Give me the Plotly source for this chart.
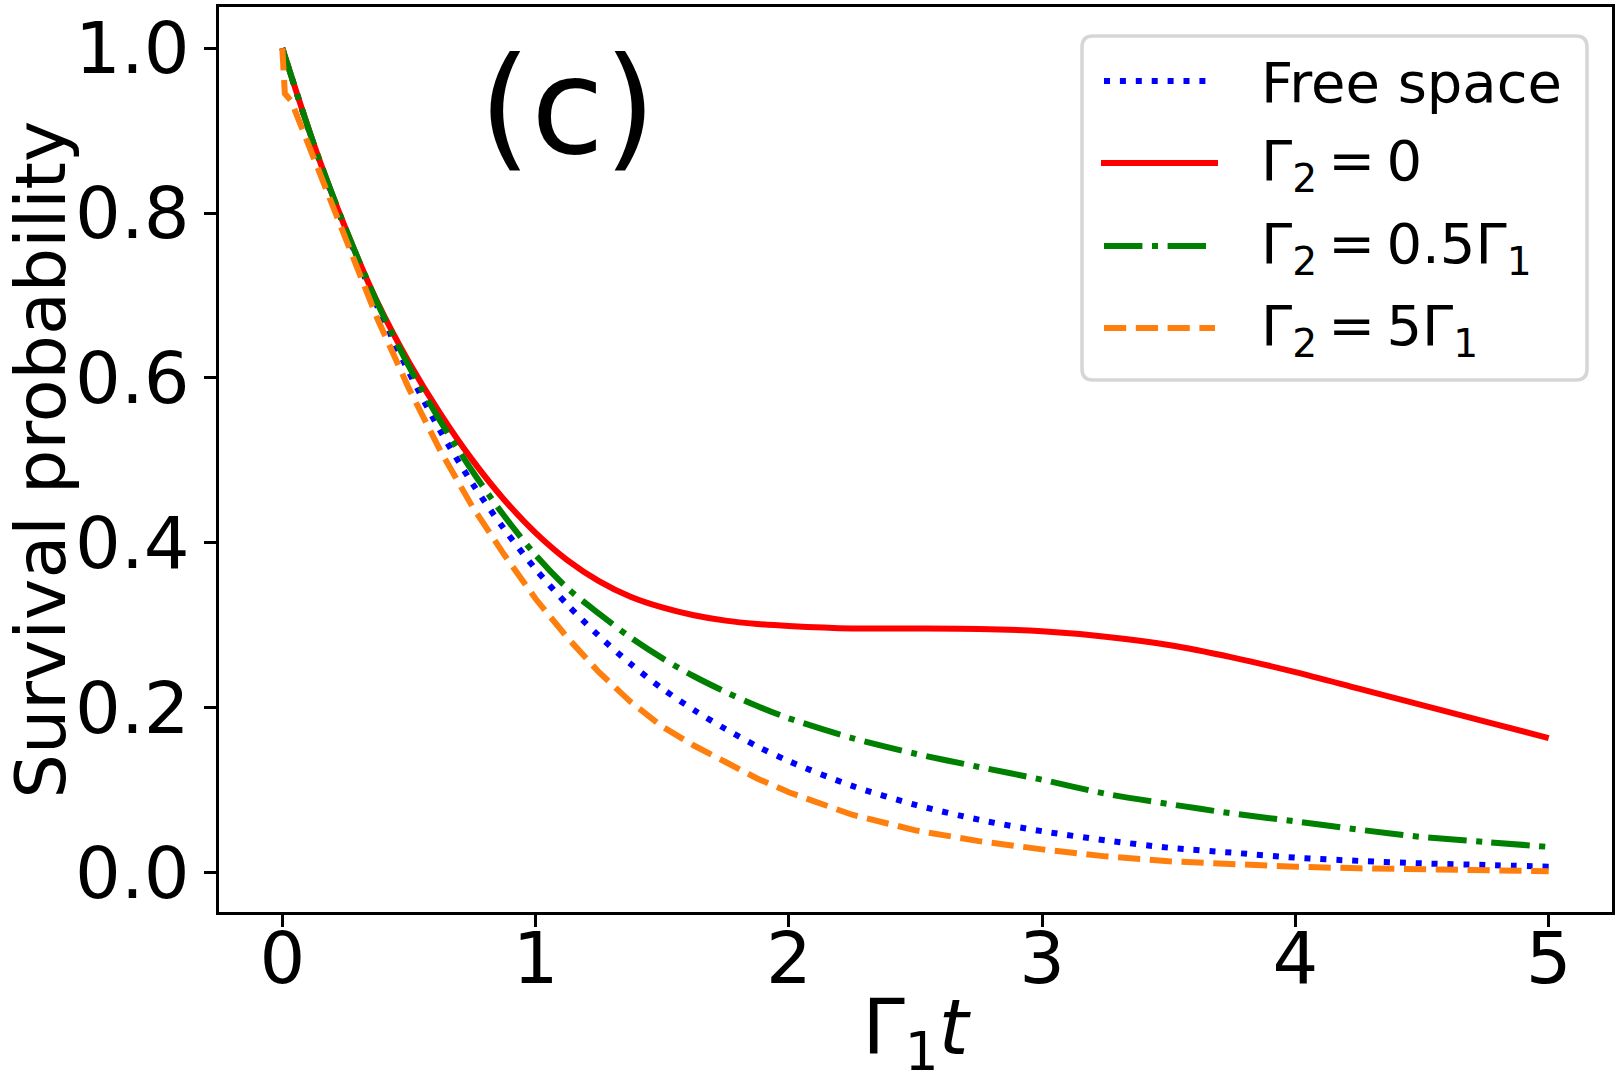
import plotly.graph_objects as go

# ---------------- data ----------------
t_free = [0.0, 0.125, 0.25, 0.375, 0.5, 0.625, 0.75, 0.875, 1.0, 1.125, 1.25, 1.375, 1.5,
          1.625, 1.75, 1.875, 2.0, 2.25, 2.5, 2.75, 3.0, 3.25, 3.5, 3.75, 4.0, 4.25, 4.5, 4.75, 5.0]
p_free = [1.0, 0.882, 0.779, 0.687, 0.607, 0.535, 0.472, 0.417, 0.368, 0.325, 0.287, 0.253, 0.223,
          0.197, 0.174, 0.153, 0.135, 0.105, 0.082, 0.064, 0.050, 0.039, 0.030, 0.024, 0.018, 0.014,
          0.011, 0.009, 0.007]

t_g0 = t_free
p_g0 = [1.0, 0.883, 0.781, 0.692, 0.619, 0.556, 0.5005, 0.4525, 0.412, 0.379, 0.3535, 0.3345, 0.3215,
        0.312, 0.3055, 0.3015, 0.299, 0.296, 0.296, 0.2955, 0.2925, 0.286, 0.276, 0.261, 0.243, 0.223,
        0.203, 0.183, 0.163]

t_g05 = t_free
p_g05 = [1.0, 0.883, 0.781, 0.691, 0.614, 0.547, 0.487, 0.433, 0.385, 0.345, 0.314, 0.285, 0.260,
         0.238, 0.219, 0.202, 0.187, 0.163, 0.144, 0.128, 0.1125, 0.0955, 0.083, 0.0716, 0.062, 0.052,
         0.043, 0.037, 0.031]

t_g5 = [0.0, 0.01, 0.035, 0.125, 0.25, 0.375, 0.5, 0.625, 0.75, 0.875, 1.0, 1.125, 1.25, 1.375, 1.5,
        1.625, 1.75, 1.875, 2.0, 2.25, 2.5, 2.75, 3.0, 3.25, 3.5, 3.75, 4.0, 4.25, 4.5, 4.75, 5.0]
p_g5 = [1.0, 0.945, 0.936, 0.866, 0.766, 0.672, 0.587, 0.511, 0.444, 0.386, 0.332, 0.285, 0.243,
        0.207, 0.177, 0.154, 0.134, 0.114, 0.0972, 0.070, 0.051, 0.038, 0.028, 0.0195, 0.0135,
        0.0098, 0.0069, 0.0050, 0.0033, 0.0022, 0.0015]

TS = "\u2009"  # thin space, as in the mathtext labels
series_names = ["Free space",
                f"Γ<sub>2</sub>{TS}={TS}0",
                f"Γ<sub>2</sub>{TS}={TS}0.5Γ<sub>1</sub>",
                f"Γ<sub>2</sub>{TS}={TS}5Γ<sub>1</sub>"]
x_ticks = [0, 1, 2, 3, 4, 5]
y_ticks = [0.0, 0.2, 0.4, 0.6, 0.8, 1.0]
y_ticktext = ["0.0", "0.2", "0.4", "0.6", "0.8", "1.0"]
x_label = "Γ<sub>1</sub><i>t</i>"
y_label = "Survival probability"
panel_label = "(c)"

# ---------------- styling ----------------
FONT = "DejaVu Sans"
LW = 6
colors = ["#0000ff", "#ff0000", "#008000", "#ff7f0e"]
dashes = ["6px,9.9px", "solid", "38.4px,9.6px,6px,9.6px", "22.2px,9.6px"]
shapes_line = ["spline", "spline", "spline", "linear"]

W, H = 1620, 1083
ML, MR, MT, MB = 219, 8, 7, 171
PW = W - ML - MR
PH = H - MT - MB


def X(px):
    return (px - ML) / PW


def Y(py):
    return (H - MB - py) / PH


fig = go.Figure()
data = [(t_free, p_free), (t_g0, p_g0), (t_g05, p_g05), (t_g5, p_g5)]
for (tx, py), name, c, d, sh in zip(data, series_names, colors, dashes, shapes_line):
    fig.add_trace(go.Scatter(x=tx, y=py, mode="lines", name=name,
                             line=dict(color=c, width=LW, dash=d, shape=sh, smoothing=0.8),
                             hoverinfo="skip"))

axis_common = dict(showline=True, linewidth=3, linecolor="black", mirror=True,
                   ticks="outside", ticklen=12, tickwidth=3, tickcolor="black",
                   showgrid=False, zeroline=False,
                   tickfont=dict(family=FONT, size=72, color="black"))

fig.update_xaxes(range=[-0.25, 5.25], tickvals=x_ticks, ticktext=[str(v) for v in x_ticks],
                 ticklabelstandoff=-30,
                 title=dict(text=x_label, font=dict(family=FONT, size=76, color="black"),
                            standoff=55),
                 **axis_common)
fig.update_yaxes(range=[-0.048, 1.05], tickvals=y_ticks, ticktext=y_ticktext,
                 **axis_common)

# ---------------- legend (drawn in the matplotlib style) ----------------
shapes = []
x0, x1, y0, y1, r = 1082, 1587, 36, 380, 11
path = (f"M {X(x0 + r)},{Y(y0)} L {X(x1 - r)},{Y(y0)} Q {X(x1)},{Y(y0)} {X(x1)},{Y(y0 + r)} "
        f"L {X(x1)},{Y(y1 - r)} Q {X(x1)},{Y(y1)} {X(x1 - r)},{Y(y1)} "
        f"L {X(x0 + r)},{Y(y1)} Q {X(x0)},{Y(y1)} {X(x0)},{Y(y1 - r)} "
        f"L {X(x0)},{Y(y0 + r)} Q {X(x0)},{Y(y0)} {X(x0 + r)},{Y(y0)} Z")
shapes.append(dict(type="path", path=path, xref="paper", yref="paper",
                   line=dict(color="rgba(204,204,204,0.8)", width=3.5),
                   fillcolor="rgba(255,255,255,0.8)", layer="above"))
row_y = [81, 163, 246, 328]
annotations = []
for i, (name, c, d) in enumerate(zip(series_names, colors, dashes)):
    hx0, hx1 = (1101, 1218) if d == "solid" else (1104, 1215)
    shapes.append(dict(type="line", xref="paper", yref="paper",
                       x0=X(hx0), x1=X(hx1), y0=Y(row_y[i]), y1=Y(row_y[i]),
                       line=dict(color=c, width=LW, dash=d), layer="above"))
    annotations.append(dict(text=name, xref="paper", yref="paper", x=X(1259), y=Y(row_y[i] + 1),
                            xanchor="left", yanchor="middle", showarrow=False,
                            font=dict(family=FONT, size=56, color="black")))

# y-axis label
annotations.append(dict(text=y_label, xref="paper", yref="paper", x=X(40), y=Y(459.5),
                        xanchor="center", yanchor="middle", textangle=-90, showarrow=False,
                        borderpad=0, font=dict(family=FONT, size=70, color="black")))

annotations.append(dict(text=panel_label, xref="paper", yref="paper", x=X(567), y=Y(107),
                        xanchor="center", yanchor="middle", showarrow=False,
                        font=dict(family=FONT, size=133, color="black")))

fig.update_layout(width=W, height=H, margin=dict(l=ML, r=MR, t=MT, b=MB, autoexpand=False),
                  paper_bgcolor="white", plot_bgcolor="white", showlegend=False,
                  shapes=shapes, annotations=annotations,
                  font=dict(family=FONT, color="black"))

fig.write_html("out.html")
